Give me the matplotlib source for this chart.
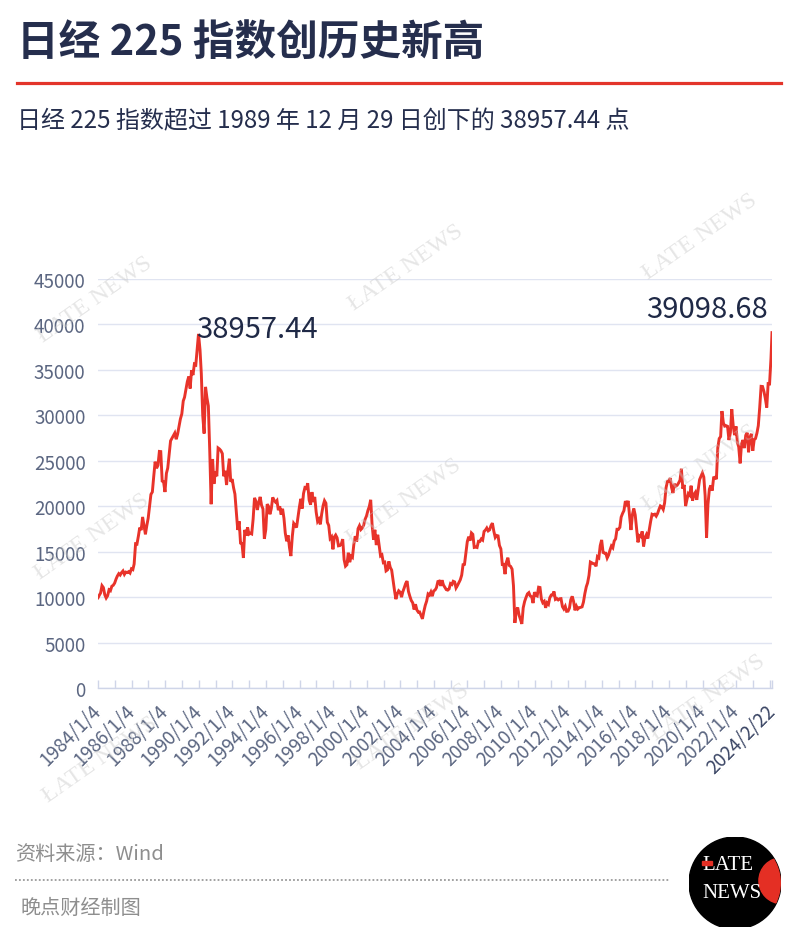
import matplotlib
matplotlib.use('Agg')
import matplotlib.pyplot as plt
import matplotlib.dates as mdates
from matplotlib.patches import Circle, Rectangle
from matplotlib.lines import Line2D
import pandas as pd

plt.rcParams['font.family'] = ['Noto Sans CJK SC', 'DejaVu Sans']

# ---------------- data (Nikkei 225) ----------------
start_date = '1984-01-04'
end_date = '2024-02-22'
start_value = 9927.0
end_value = 39098.68

v1984 = [10196, 10450, 11260, 11050, 10250, 9900, 10150, 10800, 10700, 11200, 11300, 11542]
v1985 = [11990, 12320, 12580, 12430, 12700, 12880, 12500, 12750, 12700, 12800, 12650, 13113]
v1986 = [13025, 13640, 15860, 15825, 16700, 17650, 17370, 18820, 17850, 16910, 17850, 18701]
v1987 = [20025, 21300, 21566, 23274, 24900, 24176, 24489, 26029, 26011, 22765, 22687, 21564]
v1988 = [23622, 24200, 25725, 27190, 27480, 27769, 28050, 27370, 27924, 28800, 29600, 30159]
v1989 = [31581, 31985, 32839, 33713, 34266, 32948, 34954, 34431, 35636, 35549, 37269, 38957.44]
v1990 = [37189, 34591, 29980, 28002, 33131, 31940, 31036, 25978, 20222, 25194, 22455, 23849]
v1991 = [23293, 26409, 26292, 26112, 25790, 23291, 23900, 22336, 23916, 25222, 22687, 22984]
v1992 = [22023, 21339, 19345, 17391, 18348, 15952, 15910, 14309, 17399, 16767, 17684, 16925]
v1993 = [17024, 16953, 18591, 20920, 20552, 19590, 20380, 21027, 20106, 19703, 16408, 17417]
v1994 = [20229, 19997, 19112, 19725, 20974, 20644, 20449, 20629, 19564, 19990, 19076, 19723]
v1995 = [18650, 17053, 16140, 16807, 15437, 14517, 16678, 18117, 17913, 17654, 18744, 19868]
v1996 = [20813, 19734, 21407, 22041, 21956, 22531, 20692, 20167, 21556, 20467, 21020, 19361]
v1997 = [18330, 18557, 18003, 19151, 20068, 20605, 20331, 18229, 17888, 16459, 16636, 15259]
v1998 = [16628, 16832, 16527, 15641, 15671, 15830, 16379, 14108, 13406, 13564, 14883, 13842]
v1999 = [14499, 14368, 15837, 16702, 16112, 17530, 17862, 17437, 17605, 17942, 18558, 18934]
v2000 = [19540, 19960, 20706, 17974, 16332, 17411, 15727, 16861, 15747, 14540, 14649, 13786]
v2001 = [13844, 12884, 12999, 13934, 13262, 12969, 11860, 10714, 9775, 10366, 10697, 10543]
v2002 = [9998, 10588, 11025, 11493, 11764, 10622, 10084, 9620, 9383, 8640, 9216, 8579]
v2003 = [8340, 8363, 7973, 7607, 8425, 9083, 9563, 10344, 10219, 10560, 10101, 10677]
v2004 = [10784, 11042, 11715, 11762, 11237, 11859, 11326, 11082, 10824, 10771, 10899, 11489]
v2005 = [11388, 11741, 11669, 11009, 11277, 11585, 11900, 12414, 13574, 13607, 14873, 16111]
v2006 = [16650, 16206, 17060, 16906, 15468, 15505, 15457, 16141, 16128, 16399, 16274, 17226]
v2007 = [17383, 17604, 17288, 17400, 17876, 18138, 17249, 16570, 16786, 16737, 15681, 15308]
v2008 = [13592, 13604, 12526, 13850, 14338, 13481, 13377, 13073, 11260, 7162, 8512, 8860]
v2009 = [7994, 7568, 7054, 8828, 9523, 9958, 10357, 10493, 10133, 10035, 9346, 10546]
v2010 = [10198, 10126, 11090, 11057, 9769, 9383, 9537, 8824, 9369, 9202, 9937, 10229]
v2011 = [10238, 10624, 9755, 9850, 9694, 9816, 9833, 8955, 8700, 8988, 8435, 8455]
v2012 = [8803, 9723, 10084, 9521, 8543, 9007, 8695, 8840, 8870, 8928, 9446, 10395]
v2013 = [11139, 11559, 12398, 13861, 13775, 13677, 13668, 13389, 14456, 14328, 15662, 16291]
v2014 = [14915, 14841, 14828, 14304, 14632, 15162, 15621, 15425, 16174, 16414, 17460, 17451]
v2015 = [17674, 18798, 19207, 19520, 20563, 20236, 20585, 18890, 17388, 19083, 19747, 19034]
v2016 = [17518, 16027, 16759, 16666, 17235, 15576, 16569, 16887, 16450, 17425, 18308, 19114]
v2017 = [19041, 19119, 18909, 19197, 19651, 20033, 19925, 19646, 20356, 22012, 22725, 22765]
v2018 = [23098, 22068, 21454, 22468, 22202, 22305, 22554, 22865, 24120, 21920, 22351, 20015]
v2019 = [20773, 21385, 21206, 22259, 20601, 21276, 21522, 20704, 21756, 22927, 23294, 23657]
v2020 = [23205, 21143, 16552, 20194, 21878, 22288, 21710, 23140, 23185, 22977, 26434, 27444]
v2021 = [27663, 30468, 29179, 28813, 28860, 28792, 27284, 28090, 30670, 28893, 27822, 28792]
v2022 = [27002, 26527, 24717, 26848, 27280, 26393, 27802, 28092, 25937, 27587, 27969, 26095]
v2023 = [27327, 27446, 28041, 28856, 30888, 33189, 33172, 32619, 31858, 30859, 33487, 33464]
v2024 = [36287]

monthly = (v1984 + v1985 + v1986 + v1987 + v1988 + v1989 + v1990 + v1991 + v1992 +
           v1993 + v1994 + v1995 + v1996 + v1997 + v1998 + v1999 + v2000 + v2001 +
           v2002 + v2003 + v2004 + v2005 + v2006 + v2007 + v2008 + v2009 + v2010 +
           v2011 + v2012 + v2013 + v2014 + v2015 + v2016 + v2017 + v2018 + v2019 +
           v2020 + v2021 + v2022 + v2023 + v2024)

peak_date = '1989-12-29'
peak_value = 38957.44
peak_label = '38957.44'
last_label = '39098.68'

y_ticks = [0, 5000, 10000, 15000, 20000, 25000, 30000, 35000, 40000, 45000]
tick_years = list(range(1984, 2025))
end_tick_label = '2024/2/22'

title = '日经 225 指数创历史新高'
subtitle = '日经 225 指数超过 1989 年 12 月 29 日创下的 38957.44 点'
source = '资料来源：Wind'
credit = '晚点财经制图'

# ---------------- build series ----------------
month_ends = list(pd.date_range('1984-01-31', periods=len(monthly), freq='ME'))
month_ends[71] = pd.Timestamp(peak_date)
dates = [pd.Timestamp(start_date)] + month_ends + [pd.Timestamp(end_date)]
values = [start_value] + monthly + [end_value]

W, H = 798, 928
fig = plt.figure(figsize=(W / 100, H / 100), dpi=100)
fig.patch.set_facecolor('white')

def fx(px):
    return px / W

def fy(py):
    return 1 - py / H

navy = '#252e4d'
tick_col = '#5b6681'

ax = fig.add_axes([fx(98), fy(689), fx(772) - fx(98), fy(280) - fy(689)])
ax.plot(dates, values, color='#e8332a', lw=2.1, zorder=3, solid_joinstyle='miter')
ax.set_xlim(pd.Timestamp(start_date), pd.Timestamp(end_date))
ax.set_ylim(0, 45000)
ax.set_yticks(y_ticks)
ax.set_yticklabels([str(v) for v in y_ticks])
ax.grid(axis='y', color='#e0e4f1', lw=1.0, zorder=0)
for s in ['top', 'right', 'left']:
    ax.spines[s].set_visible(False)
ax.spines['bottom'].set_color('#cfd5e8')
ax.spines['bottom'].set_linewidth(1.0)
ax.tick_params(axis='y', length=0, pad=9, labelsize=13.5, labelcolor=tick_col)

tick_dates = [pd.Timestamp(f'{y}-01-04') for y in tick_years] + [pd.Timestamp(end_date)]
tick_labels = [(f'{y}/1/4' if (y % 2 == 0 and y != 2024) else '') for y in tick_years] + [end_tick_label]
ax.set_xticks(tick_dates)
ax.set_xticklabels(tick_labels, rotation=45, ha='right', rotation_mode='anchor', va='center')
ax.tick_params(axis='x', direction='in', length=6, width=1, color='#cfd5e8',
               labelsize=13.5, labelcolor=tick_col, pad=14)
ax.xaxis.get_ticklabels()[-1].set_color('#3a4564')

ax.annotate(peak_label, xy=(pd.Timestamp(peak_date), peak_value), xytext=(-2, -2),
            textcoords='offset points', ha='left', va='baseline', fontsize=21,
            color='#1f2946')
ax.annotate(last_label, xy=(pd.Timestamp(end_date), end_value), xytext=(-3, 11),
            textcoords='offset points', ha='right', va='baseline', fontsize=21,
            color='#1f2946')

# ---------------- header ----------------
fig.text(fx(17), fy(55), title, fontsize=30, color=navy, fontweight='bold', va='baseline')
fig.add_artist(Line2D([fx(17), fx(781)], [fy(84), fy(84)], color='#e3342a', lw=2.3))
fig.text(fx(17), fy(128), subtitle, fontsize=17.3, color=navy, va='baseline')

# ---------------- footer ----------------
fig.text(fx(15), fy(860), source, fontsize=14.5, color='#8e8e8e', va='baseline')
fig.add_artist(Line2D([fx(15), fx(670)], [fy(881), fy(881)], color='#9a9a9a', lw=1.3,
                      linestyle=(0, (1, 1.2))))
fig.text(fx(20), fy(914), credit, fontsize=14.5, color='#8e8e8e', va='baseline')

# ---------------- watermarks ----------------
wm_centres = [(95, 300), (406, 268), (700, 237),
              (92, 537), (404, 502), (700, 468),
              (100, 760), (412, 727), (708, 698)]
for cx, cy in wm_centres:
    fig.text(fx(cx), fy(cy), 'ŁATE NEWS', fontsize=17.5, family='Liberation Serif',
             color='#c8c8c8', alpha=0.45, rotation=35, ha='center', va='center',
             rotation_mode='anchor', zorder=10)

# ---------------- logo ----------------
r = 46
lax = fig.add_axes([fx(735 - r), fy(884 + r), 2 * r / W, 2 * r / H])
lax.set_xlim(-1, 1)
lax.set_ylim(-1, 1)
lax.axis('off')
black = Circle((0, 0), 1, color='black', zorder=1)
lax.add_patch(black)
red = Circle((1.02, 0.05), 0.5, color='#e42f24', zorder=2)
lax.add_patch(red)
red.set_clip_path(black)
lax.text(-0.70, 0.40, 'LATE', family='Liberation Serif', fontsize=15, color='white',
         ha='left', va='center', zorder=3)
lax.text(-0.70, -0.20, 'NEWS', family='Liberation Serif', fontsize=15, color='white',
         ha='left', va='center', zorder=3)
lax.add_patch(Rectangle((-0.72, 0.40), 0.22, 0.07, color='#e42f24', zorder=4))

fig.savefig('out.png', dpi=100)
